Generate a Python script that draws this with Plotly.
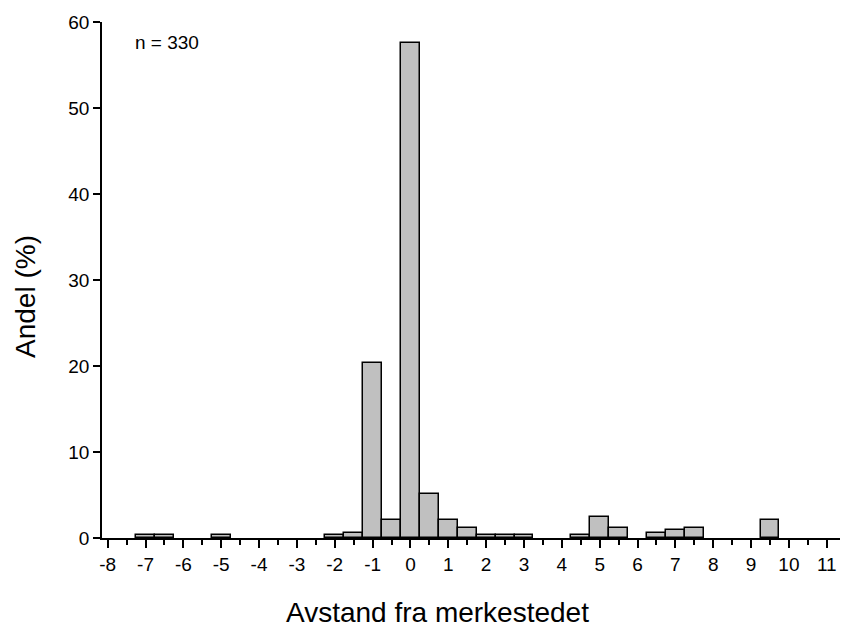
import plotly.graph_objects as go

# Bin centres (distance from tagging site) and share of fish (%)
distance = [-7.0, -6.5, -5.0, -2.0, -1.5, -1.0, -0.5, 0.0, 0.5, 1.0, 1.5,
            2.0, 2.5, 3.0, 4.5, 5.0, 5.5, 6.5, 7.0, 7.5, 9.5]
share_pct = [0.30, 0.30, 0.30, 0.30, 0.61, 20.30, 2.12, 57.58, 5.15, 2.12, 1.21,
             0.30, 0.30, 0.30, 0.30, 2.42, 1.21, 0.61, 0.91, 1.21, 2.12]
x_ticks = list(range(-8, 12))
y_ticks = [0, 10, 20, 30, 40, 50, 60]

FONT = "Liberation Sans, Arial, sans-serif"

fig = go.Figure()
fig.add_bar(
    x=distance, y=share_pct, width=0.5,
    marker=dict(color="#c0c0c0", line=dict(color="black", width=1.5)),
)

fig.update_layout(
    width=841, height=632,
    margin=dict(l=102, r=1, t=22, b=94),
    paper_bgcolor="white", plot_bgcolor="white",
    showlegend=False,
    font=dict(family=FONT, color="black", size=19),
    bargap=0,
)

fig.update_xaxes(
    range=[-8.15, 11.35],
    tickmode="array", tickvals=x_ticks, ticktext=[str(v) for v in x_ticks],
    ticks="outside", ticklen=8, tickwidth=1.5, tickcolor="black",
    minor=dict(dtick=0.5, tick0=-8, ticks="outside", ticklen=5, tickwidth=1.5, tickcolor="black"),
    showline=True, linecolor="black", linewidth=1.5,
    showgrid=False, zeroline=False,
    tickfont=dict(size=19),
)
fig.update_yaxes(
    range=[0, 60],
    tickmode="array", tickvals=y_ticks, ticktext=[str(v) for v in y_ticks],
    ticks="outside", ticklen=7, tickwidth=1.5, tickcolor="black",
    showline=True, linecolor="black", linewidth=1.5,
    showgrid=False, zeroline=False,
    tickfont=dict(size=19),
)

# Axis titles (offset from the plot centre as in the original)
fig.add_annotation(
    text="Avstand fra merkestedet", xref="paper", yref="paper",
    x=0.455, y=-0.145, xanchor="center", yanchor="middle",
    showarrow=False, font=dict(size=28),
)
fig.add_annotation(
    text="Andel (%)", xref="paper", yref="paper",
    x=-0.103, y=0.469, xanchor="center", yanchor="middle", textangle=-90,
    showarrow=False, font=dict(size=28),
)

fig.add_annotation(
    text="n = 330", xref="paper", yref="paper", x=0.042, y=0.961,
    xanchor="left", yanchor="middle", showarrow=False, font=dict(size=19),
)

fig.write_html("out.html")
